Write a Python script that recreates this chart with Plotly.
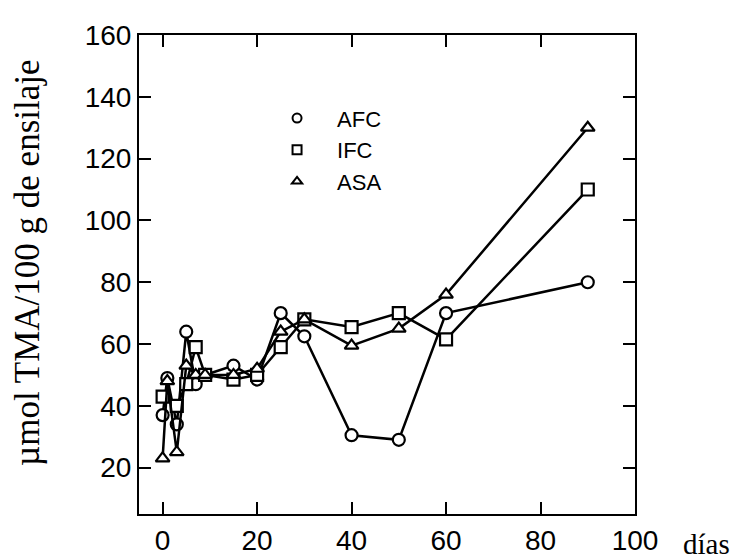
import plotly.graph_objects as go

# Data
days_afc = [0, 1, 3, 5, 7, 9, 15, 20, 25, 30, 40, 50, 60, 90]
afc = [37, 49, 34, 64, 47, 50, 53, 48.5, 70, 62.5, 30.5, 29, 70, 80]

days_ifc = [0, 3, 5, 7, 9, 15, 20, 25, 30, 40, 50, 60, 90]
ifc = [43, 40, 47, 59, 50, 48.5, 50, 59, 68, 65.5, 70, 61.5, 110]

days_asa = [0, 1, 3, 5, 7, 9, 15, 20, 25, 30, 40, 50, 60, 90]
asa = [23, 48, 25, 53, 50, 50, 50, 52, 64, 68, 59.5, 65, 76, 130]

names = ["AFC", "IFC", "ASA"]
symbols = ["circle", "square", "triangle-up"]

x_ticks = [0, 20, 40, 60, 80, 100]
y_ticks = [20, 40, 60, 80, 100, 120, 140, 160]

fig = go.Figure()
series = [(days_afc, afc), (days_ifc, ifc), (days_asa, asa)]
for (xs, ys), nm, sym in zip(series, names, symbols):
    fig.add_trace(go.Scatter(
        x=xs, y=ys, mode="lines+markers", showlegend=False,
        line=dict(color="black", width=2.5),
        marker=dict(symbol=sym, size=12, color="white",
                    line=dict(color="black", width=2.2)),
    ))
# legend entries (markers only)
for nm, sym in zip(names, symbols):
    fig.add_trace(go.Scatter(
        x=[None], y=[None], mode="markers", name=nm,
        marker=dict(symbol=sym, size=9, color="white",
                    line=dict(color="black", width=2)),
    ))

axis_common = dict(
    showline=True, linecolor="black", linewidth=2, mirror="ticks",
    ticks="inside", ticklen=12, tickwidth=2, tickcolor="black",
    showgrid=False, zeroline=False,
    tickfont=dict(family="Liberation Sans Narrow, Liberation Sans, Arial", size=28, color="black"),
)

fig.update_layout(
    width=750, height=560,
    paper_bgcolor="white", plot_bgcolor="white",
    margin=dict(l=131, r=123, t=19, b=49),
    xaxis=dict(range=[-5, 100], tickvals=x_ticks, **axis_common),
    yaxis=dict(range=[5, 160], tickvals=y_ticks, **axis_common),
    legend=dict(x=0.238, y=0.87, xanchor="left", yanchor="top",
                bgcolor="rgba(0,0,0,0)", itemwidth=70,
                font=dict(family="Liberation Sans, Arial", size=22, color="black")),
    annotations=[
        dict(text="días", xref="paper", yref="paper", x=1.145, y=-0.062,
             xanchor="center", yanchor="middle", showarrow=False,
             font=dict(family="Liberation Serif, Times New Roman", size=29, color="black")),
        dict(text="µmol TMA/100 g de ensilaje", xref="paper", yref="paper",
             x=-0.225, y=0.525, xanchor="center", yanchor="middle", textangle=-90,
             showarrow=False,
             font=dict(family="Liberation Serif, Times New Roman", size=35, color="black")),
    ],
)

fig.write_html("out.html")
